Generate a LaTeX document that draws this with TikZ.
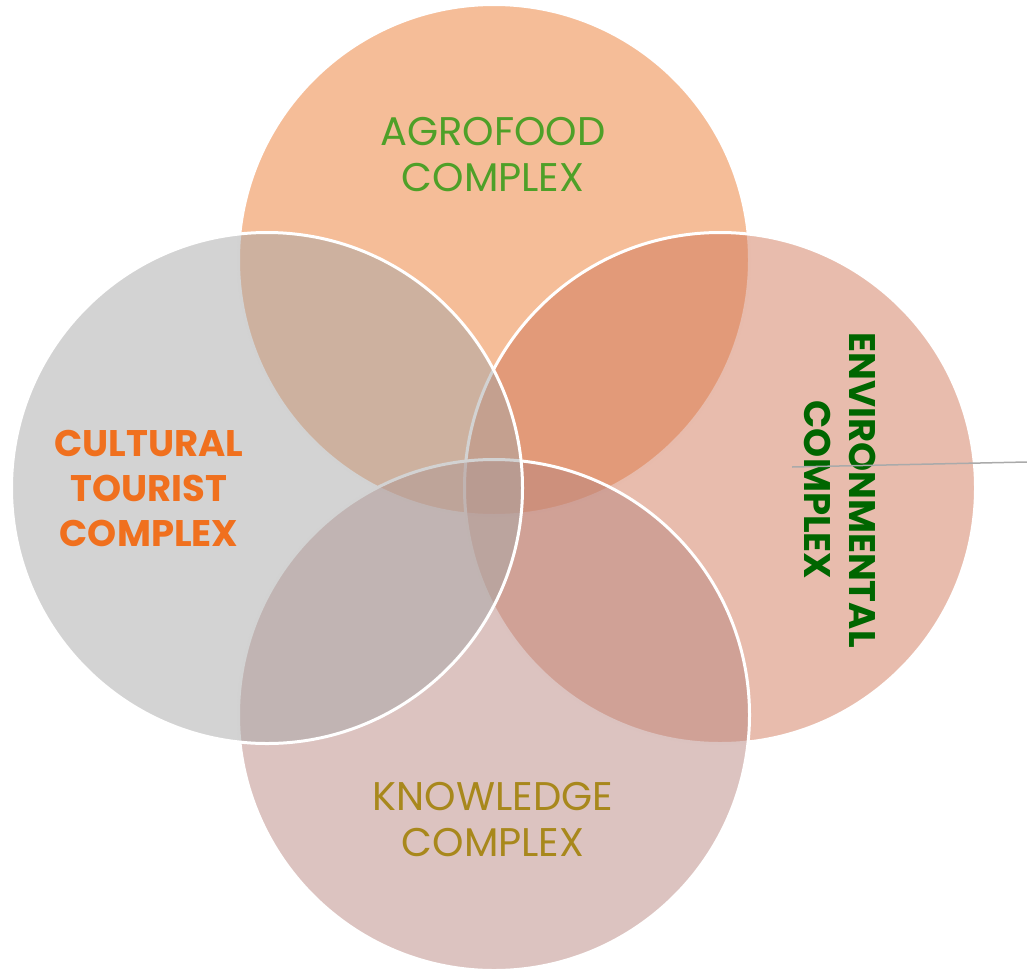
\documentclass[tikz,border=0pt]{standalone}
\usepackage{fontspec}
\newfontfamily\geo{Poppins}
\definecolor{cTop}{RGB}{235,123,49}
\definecolor{cRight}{RGB}{209,121,91}
\definecolor{cBottom}{RGB}{185,135,129}
\definecolor{cLeft}{RGB}{167,167,167}
\definecolor{tAgro}{RGB}{78,160,40}
\definecolor{tCult}{RGB}{240,112,30}
\definecolor{tEnv}{RGB}{0,102,0}
\definecolor{tKnow}{RGB}{168,136,28}
\definecolor{lineGray}{RGB}{170,170,170}
\tikzset{
  venn/.style={circle, inner sep=0pt, minimum size=511pt, draw=white, line width=3pt, fill opacity=0.5},
  label/.style={align=center, font=\geo\fontsize{40}{46}\selectfont, inner sep=0pt},
  boldlabel/.style={align=center, font=\geo\bfseries\fontsize{37}{45}\selectfont, inner sep=0pt}
}
\begin{document}
\begin{tikzpicture}[x=1pt, y=-1pt]
\useasboundingbox (0,0) rectangle (1027,969);
\node[venn, fill=cTop] (top) at (494,260) {};
\node[venn, fill=cRight] (right) at (720,488) {};
\node[venn, fill=cBottom] (bottom) at (494,715) {};
\node[venn, fill=cLeft] (left) at (267,488) {};
\node[label, text=tAgro] (agro) at (493,155) {AGROFOOD\\COMPLEX};
\node[boldlabel, text=tCult] (cult) at (149,488) {CULTURAL\\TOURIST\\COMPLEX};
\node[boldlabel, text=tEnv, rotate=-90] (env) at (840,490) {ENVIRONMENTAL\\COMPLEX};
\node[label, text=tKnow] (know) at (493,820) {KNOWLEDGE\\COMPLEX};
\coordinate (la) at (792,467);
\coordinate (lb) at (1027,462);
\draw[lineGray, line width=1.5pt] (la) -- (lb);
\end{tikzpicture}
\end{document}
